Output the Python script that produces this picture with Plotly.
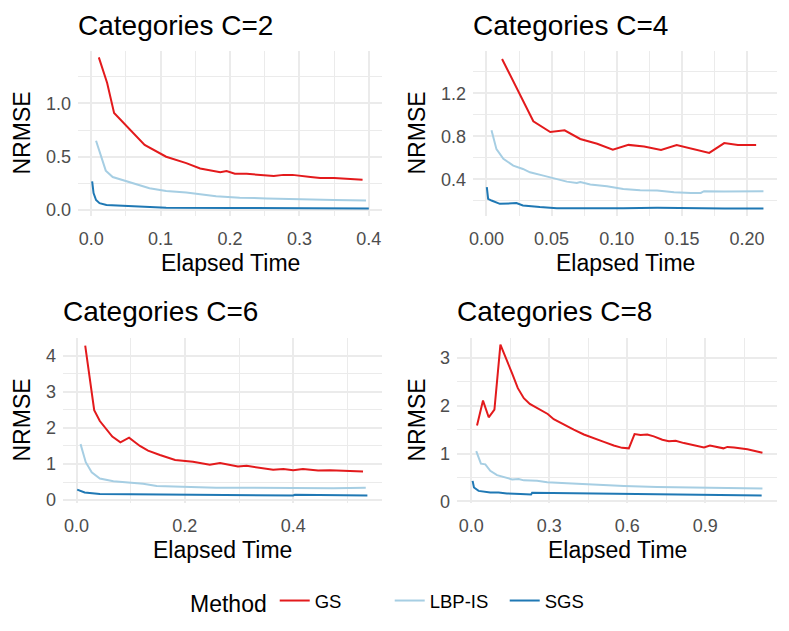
import plotly.graph_objects as go

# ---- datos (Elapsed Time, NRMSE) ----
# C=2
t_gs_c2 = [0.011, 0.023, 0.033, 0.043, 0.077, 0.108, 0.137, 0.157, 0.186, 0.195, 0.207, 0.224, 0.253, 0.263, 0.277, 0.29, 0.316, 0.33, 0.35, 0.391]
y_gs_c2 = [1.43, 1.19, 0.91, 0.84, 0.61, 0.50, 0.44, 0.39, 0.355, 0.366, 0.34, 0.34, 0.32, 0.32, 0.33, 0.33, 0.31, 0.30, 0.30, 0.285]
t_lbp_c2 = [0.007, 0.021, 0.031, 0.05, 0.07, 0.084, 0.108, 0.137, 0.18, 0.214, 0.253, 0.30, 0.35, 0.396]
y_lbp_c2 = [0.65, 0.37, 0.31, 0.27, 0.235, 0.205, 0.18, 0.165, 0.13, 0.117, 0.11, 0.10, 0.094, 0.09]
t_sgs_c2 = [0.0014, 0.0034, 0.007, 0.012, 0.022, 0.05, 0.084, 0.108, 0.205, 0.30, 0.40]
y_sgs_c2 = [0.27, 0.16, 0.095, 0.065, 0.048, 0.038, 0.031, 0.023, 0.02, 0.017, 0.016]

# C=4
t_gs_c4 = [0.012, 0.036, 0.049, 0.060, 0.072, 0.085, 0.097, 0.109, 0.121, 0.134, 0.146, 0.158, 0.171, 0.1825, 0.193, 0.207]
y_gs_c4 = [1.52, 0.94, 0.84, 0.855, 0.775, 0.73, 0.675, 0.72, 0.705, 0.672, 0.718, 0.68, 0.645, 0.737, 0.718, 0.72]
t_lbp_c4 = [0.0039, 0.0077, 0.013, 0.0206, 0.028, 0.0334, 0.0437, 0.054, 0.0617, 0.0694, 0.072, 0.0797, 0.0925, 0.105, 0.118, 0.131, 0.144, 0.157, 0.1645, 0.167, 0.1825, 0.2126]
y_lbp_c4 = [0.857, 0.68, 0.59, 0.527, 0.496, 0.465, 0.434, 0.403, 0.378, 0.366, 0.375, 0.351, 0.335, 0.31, 0.298, 0.295, 0.28, 0.273, 0.273, 0.289, 0.286, 0.289]
t_sgs_c4 = [0.0003, 0.0013, 0.0039, 0.0103, 0.023, 0.028, 0.041, 0.054, 0.105, 0.131, 0.1825, 0.2126]
y_sgs_c4 = [0.326, 0.218, 0.202, 0.171, 0.178, 0.156, 0.141, 0.131, 0.131, 0.134, 0.128, 0.128]

# C=6
t_gs_c6 = [0.016, 0.0326, 0.043, 0.066, 0.081, 0.097, 0.117, 0.132, 0.154, 0.182, 0.215, 0.246, 0.265, 0.298, 0.314, 0.363, 0.382, 0.40, 0.418, 0.446, 0.468, 0.529]
y_gs_c6 = [4.28, 2.49, 2.19, 1.76, 1.60, 1.73, 1.50, 1.37, 1.25, 1.11, 1.06, 0.98, 1.03, 0.93, 0.95, 0.84, 0.86, 0.83, 0.86, 0.82, 0.83, 0.79]
t_lbp_c6 = [0.0074, 0.017, 0.028, 0.043, 0.068, 0.105, 0.123, 0.148, 0.197, 0.258, 0.32, 0.41, 0.474, 0.534]
y_lbp_c6 = [1.55, 1.05, 0.77, 0.60, 0.52, 0.47, 0.45, 0.39, 0.37, 0.34, 0.34, 0.33, 0.33, 0.34]
t_sgs_c6 = [0.0012, 0.015, 0.043, 0.105, 0.166, 0.289, 0.40, 0.403, 0.474, 0.537]
y_sgs_c6 = [0.29, 0.21, 0.17, 0.165, 0.14, 0.13, 0.13, 0.147, 0.14, 0.13]

# C=8
t_gs_c8 = [0.022, 0.045, 0.067, 0.089, 0.112, 0.135, 0.157, 0.179, 0.202, 0.225, 0.253, 0.279, 0.294, 0.317, 0.356, 0.394, 0.433,
           0.471, 0.51, 0.548, 0.58, 0.606, 0.628, 0.651, 0.677, 0.702, 0.735, 0.76, 0.786, 0.818, 0.857, 0.895, 0.918, 0.946,
           0.97, 0.985, 1.011, 1.062, 1.12]
y_gs_c8 = [1.59, 2.11, 1.76, 1.92, 3.28, 2.99, 2.68, 2.37, 2.16, 2.04, 1.95, 1.86, 1.83, 1.72, 1.60, 1.50, 1.40,
           1.33, 1.245, 1.17, 1.12, 1.11, 1.41, 1.39, 1.40, 1.36, 1.29, 1.26, 1.27, 1.22, 1.18, 1.13, 1.17, 1.14,
           1.11, 1.14, 1.13, 1.09, 1.02]
t_lbp_c8 = [0.019, 0.037, 0.054, 0.073, 0.099, 0.131, 0.157, 0.182, 0.202, 0.253, 0.292, 0.368, 0.458, 0.587, 0.715, 0.908, 1.12]
y_lbp_c8 = [1.05, 0.79, 0.775, 0.64, 0.55, 0.50, 0.46, 0.47, 0.44, 0.43, 0.40, 0.38, 0.35, 0.32, 0.30, 0.284, 0.27]
t_sgs_c8 = [0.005, 0.0103, 0.028, 0.0475, 0.073, 0.105, 0.137, 0.189, 0.23, 0.234, 0.33, 0.523, 0.78, 1.117]
y_sgs_c8 = [0.43, 0.29, 0.22, 0.20, 0.187, 0.187, 0.166, 0.152, 0.145, 0.18, 0.173, 0.16, 0.138, 0.124]

metodos = ["GS", "LBP-IS", "SGS"]
colores = {"GS": "#E31A1C", "LBP-IS": "#A6CEE3", "SGS": "#1F78B4"}

paneles = [
    ("Categories C=2", {"GS": (t_gs_c2, y_gs_c2), "LBP-IS": (t_lbp_c2, y_lbp_c2), "SGS": (t_sgs_c2, y_sgs_c2)}),
    ("Categories C=4", {"GS": (t_gs_c4, y_gs_c4), "LBP-IS": (t_lbp_c4, y_lbp_c4), "SGS": (t_sgs_c4, y_sgs_c4)}),
    ("Categories C=6", {"GS": (t_gs_c6, y_gs_c6), "LBP-IS": (t_lbp_c6, y_lbp_c6), "SGS": (t_sgs_c6, y_sgs_c6)}),
    ("Categories C=8", {"GS": (t_gs_c8, y_gs_c8), "LBP-IS": (t_lbp_c8, y_lbp_c8), "SGS": (t_sgs_c8, y_sgs_c8)}),
]

# la pagina deja 8 px de margen en el body, asi que la figura es 8 px mas pequena
OFF = 8
W, H = 789 - OFF, 631 - OFF
FUENTE = "Liberation Sans, Arial, sans-serif"
GRIS = "#EBEBEB"


def px(x):
    return (x - OFF) / W


def py(y):
    return 1 - (y - OFF) / H


# cajas de cada panel en pixeles de la ventana: (izq, der, arriba, abajo)
cajas = [(78, 382, 51, 216), (473, 777, 51, 216), (63, 382, 338, 503), (457, 777, 338, 503)]
# ejes: rango x, dtick x, formato x, rango y, dtick y, formato y
ejes = [
    ([-0.019, 0.419], 0.1, ".1f", [-0.055, 1.49], 0.5, ".1f"),
    ([-0.0103, 0.223], 0.05, ".2f", [0.058, 1.594], 0.4, ".1f"),
    ([-0.025, 0.564], 0.2, ".1f", [-0.08, 4.49], 1, "d"),
    ([-0.055, 1.176], 0.3, ".1f", [-0.034, 3.42], 1, "d"),
]

fig = go.Figure()
layout = {}
anotaciones = []

for i, (titulo, series) in enumerate(paneles):
    n = "" if i == 0 else str(i + 1)
    for m in metodos:
        t, y = series[m]
        fig.add_trace(go.Scatter(
            x=t, y=y, mode="lines", name=m, legendgroup=m,
            showlegend=(i == 0),
            line=dict(color=colores[m], width=2),
            xaxis="x" + n, yaxis="y" + n,
        ))

    izq, der, arr, aba = cajas[i]
    xr, xd, xf, yr, yd, yf = ejes[i]
    comun = dict(
        showline=False, zeroline=False, ticks="",
        showgrid=True, gridcolor=GRIS, gridwidth=1.8,
        tickfont=dict(family=FUENTE, size=18, color="#4D4D4D"),
        automargin=False,
    )
    layout["xaxis" + n] = dict(
        comun, domain=[px(izq), px(der)], range=xr, tick0=0, dtick=xd, tickformat=xf,
        anchor="y" + n, ticklabelstandoff=10,
        minor=dict(dtick=xd / 2, showgrid=True, gridcolor=GRIS, gridwidth=1.0),
    )
    layout["yaxis" + n] = dict(
        comun, domain=[py(aba), py(arr)], range=yr, tick0=0, dtick=yd, tickformat=yf,
        anchor="x" + n, ticklabelstandoff=6,
        minor=dict(dtick=yd / 2, showgrid=True, gridcolor=GRIS, gridwidth=1.0),
    )

    # titulo del panel
    anotaciones.append(dict(
        text=titulo, x=px(izq - 2), y=py(arr - 26), xref="paper", yref="paper",
        xanchor="left", yanchor="middle", showarrow=False,
        font=dict(family=FUENTE, size=28, color="black"),
    ))
    # titulo eje x
    anotaciones.append(dict(
        text="Elapsed Time", x=px((izq + der) / 2), y=py(aba + 47), xref="paper", yref="paper",
        xanchor="center", yanchor="middle", showarrow=False,
        font=dict(family=FUENTE, size=23, color="black"),
    ))
    # titulo eje y
    xt = 21 if izq < 400 else 416
    anotaciones.append(dict(
        text="NRMSE", x=px(xt), y=py((arr + aba) / 2), xref="paper", yref="paper",
        xanchor="center", yanchor="middle", showarrow=False, textangle=-90,
        font=dict(family=FUENTE, size=23, color="black"),
    ))

fig.update_layout(
    width=W, height=H,
    margin=dict(l=0, r=0, t=0, b=0),
    paper_bgcolor="white", plot_bgcolor="white",
    font=dict(family=FUENTE, color="black"),
    annotations=anotaciones,
    showlegend=True,
    legend=dict(
        orientation="h", x=px(404), xanchor="center", y=py(602), yanchor="middle",
        title=dict(text="Method", side="left", font=dict(family=FUENTE, size=23, color="black")),
        font=dict(family=FUENTE, size=18.5, color="black"),
        entrywidth=70, entrywidthmode="pixels",
        bgcolor="rgba(0,0,0,0)",
    ),
    **layout,
)

fig.write_html("out.html")
